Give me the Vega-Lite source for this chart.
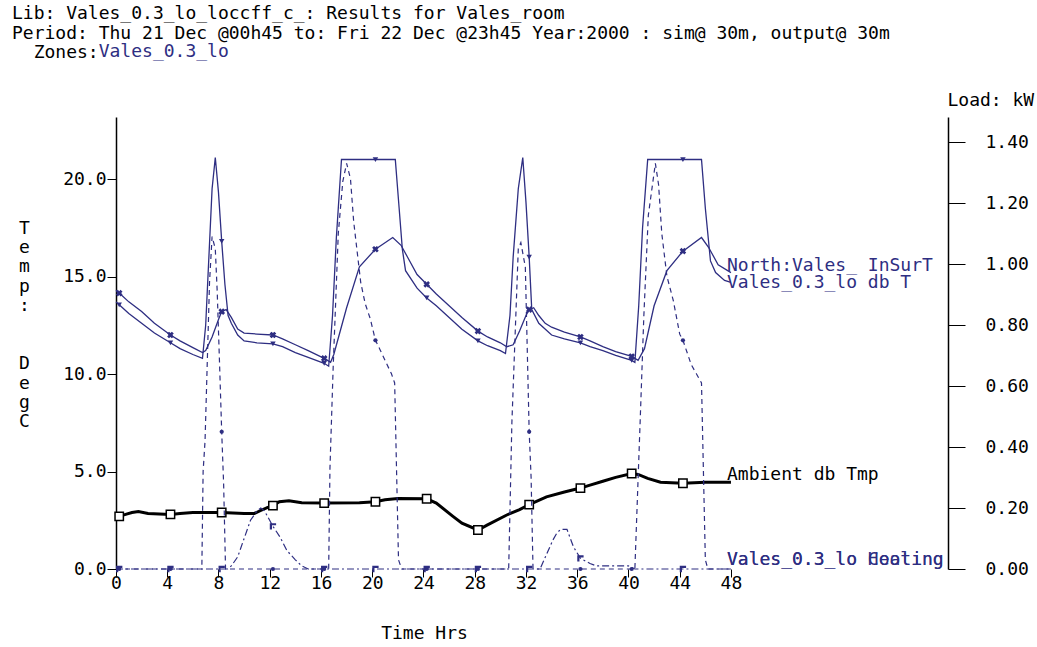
{
  "$schema": "https://vega.github.io/schema/vega-lite/v6.json",
  "width": 832,
  "height": 452,
  "autosize": {"type": "none"},
  "padding": {"left": 116, "top": 117, "right": 89, "bottom": 78},
  "background": "white",
  "config": {
    "view": {"stroke": null},
    "font": "DejaVu Sans Mono",
    "axis": {"labelFont": "DejaVu Sans Mono", "labelFontSize": 18, "labelColor": "black", "titleFont": "DejaVu Sans Mono", "titleFontSize": 18, "titleFontWeight": "normal", "titleColor": "black", "tickColor": "black", "domainColor": "black", "grid": false, "labelFlush": false, "labelOverlap": false},
    "text": {"font": "DejaVu Sans Mono", "fontSize": 18}
  },
  "title": {
    "text": ["Lib: Vales_0.3_lo_loccff_c_: Results for Vales_room", "Period: Thu 21 Dec @00h45 to: Fri 22 Dec @23h45 Year:2000 : sim@ 30m, output@ 30m", "\u200b\u00a0\u00a0Zones:"],
    "subtitle": "\u200b\u00a0\u00a0\u00a0\u00a0\u00a0\u00a0\u00a0\u00a0Vales_0.3_lo",
    "anchor": "start",
    "frame": "group",
    "dx": -104,
    "offset": 29,
    "font": "DejaVu Sans Mono",
    "fontSize": 18,
    "fontWeight": "normal",
    "color": "black",
    "lineHeight": 19.5,
    "subtitleFont": "DejaVu Sans Mono",
    "subtitleFontSize": 18,
    "subtitleColor": "#2e2e82",
    "subtitlePadding": -19.5
  },
  "datasets": {
    "temp": [
      {"s":"surf","t":0,"v":14.3},{"s":"surf","t":0.25,"v":14.15},{"s":"surf","t":1,"v":13.7},{"s":"surf","t":2,"v":13.2},{"s":"surf","t":3,"v":12.6},{"s":"surf","t":4.25,"v":12.0},{"s":"surf","t":5,"v":11.7},{"s":"surf","t":6,"v":11.35},{"s":"surf","t":6.75,"v":11.1},{"s":"surf","t":7,"v":11.2},{"s":"surf","t":7.5,"v":11.9},{"s":"surf","t":8,"v":12.8},{"s":"surf","t":8.25,"v":13.2},{"s":"surf","t":8.6,"v":13.3},{"s":"surf","t":9,"v":12.9},{"s":"surf","t":9.5,"v":12.3},{"s":"surf","t":10,"v":12.1},{"s":"surf","t":11,"v":12.05},{"s":"surf","t":12.25,"v":12.0},{"s":"surf","t":13,"v":11.8},{"s":"surf","t":14,"v":11.5},{"s":"surf","t":15,"v":11.2},{"s":"surf","t":16.25,"v":10.8},{"s":"surf","t":16.75,"v":10.6},{"s":"surf","t":17,"v":11.0},{"s":"surf","t":18,"v":13.4},{"s":"surf","t":19,"v":15.5},{"s":"surf","t":20.25,"v":16.4},{"s":"surf","t":21.6,"v":17.0},{"s":"surf","t":22.25,"v":16.6},{"s":"surf","t":22.75,"v":16.0},{"s":"surf","t":23.5,"v":15.1},{"s":"surf","t":24.25,"v":14.6},{"s":"surf","t":25,"v":14.1},{"s":"surf","t":26,"v":13.5},{"s":"surf","t":27,"v":12.9},{"s":"surf","t":28.25,"v":12.2},{"s":"surf","t":29,"v":11.9},{"s":"surf","t":30,"v":11.6},{"s":"surf","t":30.5,"v":11.4},{"s":"surf","t":31,"v":11.5},{"s":"surf","t":31.5,"v":12.2},{"s":"surf","t":32,"v":13.0},{"s":"surf","t":32.25,"v":13.3},{"s":"surf","t":32.6,"v":13.4},{"s":"surf","t":33,"v":13.0},{"s":"surf","t":33.5,"v":12.6},{"s":"surf","t":34,"v":12.4},{"s":"surf","t":35,"v":12.15},{"s":"surf","t":36.25,"v":11.9},{"s":"surf","t":37,"v":11.7},{"s":"surf","t":38,"v":11.4},{"s":"surf","t":39,"v":11.15},{"s":"surf","t":40.25,"v":10.9},{"s":"surf","t":40.75,"v":10.7},{"s":"surf","t":41.25,"v":11.3},{"s":"surf","t":42,"v":13.5},{"s":"surf","t":43,"v":15.3},{"s":"surf","t":44.25,"v":16.3},{"s":"surf","t":45.7,"v":17.0},{"s":"surf","t":46.25,"v":16.5},{"s":"surf","t":47,"v":15.6},{"s":"surf","t":48,"v":15.2},
      {"s":"db","t":0,"v":13.7},{"s":"db","t":0.25,"v":13.55},{"s":"db","t":1,"v":13.1},{"s":"db","t":2,"v":12.6},{"s":"db","t":3,"v":12.1},{"s":"db","t":4.25,"v":11.6},{"s":"db","t":5,"v":11.3},{"s":"db","t":6,"v":11.0},{"s":"db","t":6.75,"v":10.8},{"s":"db","t":7,"v":12.5},{"s":"db","t":7.25,"v":16.0},{"s":"db","t":7.5,"v":19.5},{"s":"db","t":7.75,"v":21.1},{"s":"db","t":8,"v":19.3},{"s":"db","t":8.25,"v":16.8},{"s":"db","t":8.5,"v":14.6},{"s":"db","t":8.75,"v":13.0},{"s":"db","t":9,"v":12.6},{"s":"db","t":9.5,"v":12.0},{"s":"db","t":10,"v":11.7},{"s":"db","t":11,"v":11.6},{"s":"db","t":12.25,"v":11.55},{"s":"db","t":13,"v":11.4},{"s":"db","t":14,"v":11.1},{"s":"db","t":15,"v":10.85},{"s":"db","t":16.25,"v":10.55},{"s":"db","t":16.6,"v":10.4},{"s":"db","t":16.9,"v":13.0},{"s":"db","t":17.2,"v":17.0},{"s":"db","t":17.6,"v":21.0},{"s":"db","t":20.25,"v":21.0},{"s":"db","t":21.8,"v":21.0},{"s":"db","t":22.1,"v":18.5},{"s":"db","t":22.35,"v":16.4},{"s":"db","t":22.6,"v":15.3},{"s":"db","t":23.5,"v":14.4},{"s":"db","t":24.25,"v":13.9},{"s":"db","t":25,"v":13.5},{"s":"db","t":26,"v":12.9},{"s":"db","t":27,"v":12.3},{"s":"db","t":28.25,"v":11.7},{"s":"db","t":29,"v":11.45},{"s":"db","t":30,"v":11.2},{"s":"db","t":30.4,"v":11.05},{"s":"db","t":30.75,"v":13.0},{"s":"db","t":31,"v":16.0},{"s":"db","t":31.4,"v":19.5},{"s":"db","t":31.75,"v":21.1},{"s":"db","t":32,"v":18.8},{"s":"db","t":32.25,"v":16.0},{"s":"db","t":32.45,"v":13.3},{"s":"db","t":33,"v":12.6},{"s":"db","t":34,"v":12.0},{"s":"db","t":35,"v":11.8},{"s":"db","t":36.25,"v":11.6},{"s":"db","t":37,"v":11.4},{"s":"db","t":38,"v":11.2},{"s":"db","t":39,"v":10.95},{"s":"db","t":40.25,"v":10.7},{"s":"db","t":40.5,"v":10.6},{"s":"db","t":40.8,"v":13.5},{"s":"db","t":41.1,"v":17.5},{"s":"db","t":41.5,"v":21.0},{"s":"db","t":44.25,"v":21.0},{"s":"db","t":45.7,"v":21.0},{"s":"db","t":46,"v":18.5},{"s":"db","t":46.4,"v":15.8},{"s":"db","t":46.8,"v":15.2},{"s":"db","t":47.5,"v":14.8},{"s":"db","t":48,"v":14.7},
      {"s":"amb","t":0,"v":2.65},{"s":"amb","t":0.25,"v":2.7},{"s":"amb","t":0.75,"v":2.8},{"s":"amb","t":1.25,"v":2.9},{"s":"amb","t":1.75,"v":2.95},{"s":"amb","t":2.5,"v":2.85},{"s":"amb","t":4.25,"v":2.8},{"s":"amb","t":5,"v":2.85},{"s":"amb","t":6,"v":2.9},{"s":"amb","t":8.25,"v":2.9},{"s":"amb","t":10,"v":2.85},{"s":"amb","t":10.8,"v":2.85},{"s":"amb","t":11.3,"v":3.0},{"s":"amb","t":11.8,"v":3.15},{"s":"amb","t":12.25,"v":3.25},{"s":"amb","t":12.75,"v":3.45},{"s":"amb","t":13.5,"v":3.5},{"s":"amb","t":14.5,"v":3.4},{"s":"amb","t":16.25,"v":3.38},{"s":"amb","t":19,"v":3.4},{"s":"amb","t":20.25,"v":3.45},{"s":"amb","t":21,"v":3.55},{"s":"amb","t":22,"v":3.62},{"s":"amb","t":24.25,"v":3.6},{"s":"amb","t":25,"v":3.38},{"s":"amb","t":26.3,"v":2.7},{"s":"amb","t":27,"v":2.35},{"s":"amb","t":28.25,"v":2.0},{"s":"amb","t":29,"v":2.26},{"s":"amb","t":30.5,"v":2.77},{"s":"amb","t":31.5,"v":3.05},{"s":"amb","t":32.25,"v":3.3},{"s":"amb","t":33.6,"v":3.7},{"s":"amb","t":35,"v":3.95},{"s":"amb","t":36.25,"v":4.15},{"s":"amb","t":37,"v":4.3},{"s":"amb","t":38,"v":4.5},{"s":"amb","t":39,"v":4.7},{"s":"amb","t":40.25,"v":4.9},{"s":"amb","t":40.75,"v":4.85},{"s":"amb","t":41.5,"v":4.65},{"s":"amb","t":42.5,"v":4.45},{"s":"amb","t":44.25,"v":4.4},{"s":"amb","t":46,"v":4.45},{"s":"amb","t":48,"v":4.45}
    ],
    "load": [
      {"s":"heat","t":0,"v":0},{"s":"heat","t":0.25,"v":0},{"s":"heat","t":4.25,"v":0},{"s":"heat","t":6.7,"v":0},{"s":"heat","t":6.8,"v":0.32},{"s":"heat","t":6.95,"v":0.42},{"s":"heat","t":7.3,"v":0.94},{"s":"heat","t":7.5,"v":1.09},{"s":"heat","t":7.75,"v":1.05},{"s":"heat","t":7.9,"v":0.91},{"s":"heat","t":8.1,"v":0.65},{"s":"heat","t":8.25,"v":0.45},{"s":"heat","t":8.4,"v":0.28},{"s":"heat","t":8.55,"v":0},{"s":"heat","t":12.25,"v":0},{"s":"heat","t":16.25,"v":0},{"s":"heat","t":16.6,"v":0},{"s":"heat","t":16.7,"v":0.33},{"s":"heat","t":16.95,"v":0.66},{"s":"heat","t":17.35,"v":1.1},{"s":"heat","t":17.7,"v":1.27},{"s":"heat","t":18,"v":1.33},{"s":"heat","t":18.3,"v":1.28},{"s":"heat","t":18.55,"v":1.14},{"s":"heat","t":19.1,"v":0.94},{"s":"heat","t":19.45,"v":0.87},{"s":"heat","t":19.85,"v":0.82},{"s":"heat","t":20.25,"v":0.75},{"s":"heat","t":20.6,"v":0.72},{"s":"heat","t":21.1,"v":0.675},{"s":"heat","t":21.5,"v":0.64},{"s":"heat","t":21.75,"v":0.61},{"s":"heat","t":22.05,"v":0.03},{"s":"heat","t":22.3,"v":0},{"s":"heat","t":24.25,"v":0},{"s":"heat","t":28.25,"v":0},{"s":"heat","t":30.65,"v":0},{"s":"heat","t":30.9,"v":0.48},{"s":"heat","t":31.4,"v":1.05},{"s":"heat","t":31.6,"v":1.07},{"s":"heat","t":31.95,"v":0.99},{"s":"heat","t":32.1,"v":0.72},{"s":"heat","t":32.25,"v":0.45},{"s":"heat","t":32.4,"v":0.3},{"s":"heat","t":32.55,"v":0},{"s":"heat","t":36.25,"v":0},{"s":"heat","t":40.25,"v":0},{"s":"heat","t":40.5,"v":0},{"s":"heat","t":40.9,"v":0.47},{"s":"heat","t":41.2,"v":0.83},{"s":"heat","t":41.55,"v":1.16},{"s":"heat","t":42.1,"v":1.33},{"s":"heat","t":42.35,"v":1.26},{"s":"heat","t":42.6,"v":1.1},{"s":"heat","t":43,"v":0.96},{"s":"heat","t":43.5,"v":0.88},{"s":"heat","t":44,"v":0.77},{"s":"heat","t":44.25,"v":0.75},{"s":"heat","t":44.9,"v":0.67},{"s":"heat","t":45.3,"v":0.64},{"s":"heat","t":45.7,"v":0.61},{"s":"heat","t":46,"v":0.03},{"s":"heat","t":46.2,"v":0},{"s":"heat","t":48,"v":0},
      {"s":"cool","t":0,"v":0},{"s":"cool","t":0.25,"v":0},{"s":"cool","t":4.25,"v":0},{"s":"cool","t":8.25,"v":0},{"s":"cool","t":8.7,"v":0},{"s":"cool","t":9,"v":0.01},{"s":"cool","t":9.5,"v":0.04},{"s":"cool","t":10,"v":0.1},{"s":"cool","t":10.5,"v":0.16},{"s":"cool","t":11,"v":0.19},{"s":"cool","t":11.3,"v":0.2},{"s":"cool","t":11.6,"v":0.19},{"s":"cool","t":12.25,"v":0.14},{"s":"cool","t":12.8,"v":0.105},{"s":"cool","t":13.35,"v":0.06},{"s":"cool","t":14,"v":0.03},{"s":"cool","t":14.5,"v":0.01},{"s":"cool","t":15,"v":0},{"s":"cool","t":16.25,"v":0},{"s":"cool","t":20.25,"v":0},{"s":"cool","t":24.25,"v":0},{"s":"cool","t":28.25,"v":0},{"s":"cool","t":32.25,"v":0},{"s":"cool","t":33.1,"v":0},{"s":"cool","t":34.1,"v":0.095},{"s":"cool","t":34.4,"v":0.117},{"s":"cool","t":34.7,"v":0.13},{"s":"cool","t":35.2,"v":0.13},{"s":"cool","t":35.7,"v":0.073},{"s":"cool","t":36.25,"v":0.035},{"s":"cool","t":37,"v":0.018},{"s":"cool","t":37.5,"v":0.01},{"s":"cool","t":40,"v":0.01},{"s":"cool","t":40.5,"v":0},{"s":"cool","t":44.25,"v":0},{"s":"cool","t":48,"v":0}
    ],
    "labelsT": [
      {"label":"North:Vales_ InSurT","t":48,"v":15.55},
      {"label":"Vales_0.3_lo db T","t":48,"v":14.65},
      {"label":"Ambient db Tmp","t":48,"v":4.82}
    ],
    "labelsL": [
      {"label":"Vales_0.3_lo Heating","t":48,"v":0.03},
      {"label":"Vales_0.3_lo Cooling","t":48,"v":0.03}
    ]
  },
  "encoding": {
    "x": {"field": "t", "type": "quantitative",
      "scale": {"domain": [0, 64.94], "nice": false, "zero": false},
      "axis": {"values": [0,4,8,12,16,20,24,28,32,36,40,44,48], "format": "d", "domain": false, "tickSize": 8, "labelPadding": -3, "title": "Time Hrs", "titleX": 308, "titleY": 69, "titleAlign": "center", "titleBaseline": "alphabetic"}}
  },
  "layer": [
    {
      "data": {"name": "temp"},
      "encoding": {
        "y": {"field": "v", "type": "quantitative",
          "scale": {"domain": [0, 23.18], "nice": false, "zero": false},
          "axis": {"orient": "left", "values": [0,5,10,15,20], "format": ".1f", "tickSize": 9, "labelPadding": 1, "domainWidth": 1.5, "title": ["T","e","m","p",":","\u2800","\u2800","D","e","g","C"], "titleAngle": 0, "titleX": -92, "titleY": 102, "titleAlign": "center", "titleBaseline": "top", "titleLineHeight": 19.4}}
      },
      "layer": [
        {"transform": [{"filter": "datum.s != 'amb'"}], "mark": {"type": "line", "strokeWidth": 1.3, "color": "#2e2e82"}, "encoding": {"detail": {"field": "s"}}},
        {"transform": [{"filter": "datum.s == 'amb'"}], "mark": {"type": "line", "strokeWidth": 3, "color": "black"}},
        {"transform": [{"filter": "datum.s == 'surf' && abs((datum.t - 0.25) % 4) < 0.001"}], "mark": {"type": "point", "shape": "cross", "angle": 45, "filled": true, "size": 45, "color": "#2e2e82", "opacity": 1}},
        {"transform": [{"filter": "datum.s == 'db' && abs((datum.t - 0.25) % 4) < 0.001"}], "mark": {"type": "point", "shape": "triangle-down", "filled": true, "size": 30, "color": "#2e2e82", "opacity": 1}},
        {"transform": [{"filter": "datum.s == 'amb' && abs((datum.t - 0.25) % 4) < 0.001"}], "mark": {"type": "point", "shape": "square", "filled": false, "size": 70, "stroke": "black", "strokeWidth": 1.5, "fill": "white", "fillOpacity": 1, "opacity": 1}},
        {"data": {"name": "labelsT"}, "mark": {"type": "text", "align": "left", "baseline": "middle", "dx": -4},
          "encoding": {"text": {"field": "label"}, "color": {"field": "label", "type": "nominal", "legend": null, "scale": {"domain": ["North:Vales_ InSurT","Vales_0.3_lo db T","Ambient db Tmp"], "range": ["#2e2e82","#2e2e82","black"]}}}}
      ]
    },
    {
      "data": {"name": "load"},
      "encoding": {
        "y": {"field": "v", "type": "quantitative",
          "scale": {"domain": [0, 1.482], "nice": false, "zero": false},
          "axis": {"orient": "right", "values": [0,0.2,0.4,0.6,0.8,1.0,1.2,1.4], "format": ".2f", "tickSize": 17, "labelPadding": 20, "domainWidth": 1.5, "title": "Load: kW", "titleAngle": 0, "titleX": -1, "titleY": -12, "titleAlign": "left", "titleBaseline": "alphabetic"}}
      },
      "layer": [
        {"transform": [{"filter": "datum.s == 'heat'"}], "mark": {"type": "line", "strokeWidth": 1.2, "color": "#2e2e82", "strokeDash": [5, 4]}},
        {"transform": [{"filter": "datum.s == 'cool'"}], "mark": {"type": "line", "strokeWidth": 1.2, "color": "#2e2e82", "strokeDash": [7, 3, 2, 3]}},
        {"transform": [{"filter": "datum.s == 'heat' && abs((datum.t - 0.25) % 4) < 0.001"}], "mark": {"type": "point", "shape": "circle", "filled": true, "size": 18, "color": "#2e2e82", "opacity": 1}},
        {"transform": [{"filter": "datum.s == 'cool' && abs((datum.t - 0.25) % 4) < 0.001"}], "mark": {"type": "point", "shape": "M-1,-1H1V-0.3H-0.3V1H-1Z", "filled": true, "size": 40, "color": "#2e2e82", "opacity": 1}},
        {"data": {"name": "labelsL"}, "mark": {"type": "text", "align": "left", "baseline": "middle", "dx": -4, "color": "#2e2e82"},
          "encoding": {"text": {"field": "label"}}}
      ]
    }
  ],
  "resolve": {"scale": {"y": "independent"}}
}
